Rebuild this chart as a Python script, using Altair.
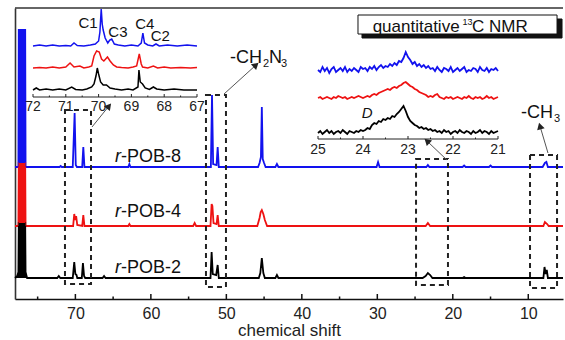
import altair as alt
import numpy as np
import pandas as pd

FONT = "Liberation Sans, Arial, Helvetica, sans-serif"
W, H = 548, 291

SERIES = ["r-POB-8", "r-POB-4", "r-POB-2"]
COLORS = ["#1212ee", "#ee1212", "#000000"]

# ---- main spectra: chemical shift (ppm) and intensity above each trace's baseline ----
MAIN_OFFSETS = [132, 73, 21]

pob8_ppm = [78.0, 77.55, 77.5, 76.65, 76.6, 72.1, 71.95, 71.8, 70.35, 70.1, 69.95, 69.8,
            69.1, 68.95, 68.8, 63.0, 62.85, 62.7, 52.05, 51.9, 51.75, 51.3, 51.15, 51.0,
            45.8, 45.6, 45.42, 45.3, 45.18, 45.0, 44.8, 43.5, 43.3, 43.1, 30.1, 29.9, 29.7,
            23.5, 23.3, 23.1, 18.7, 18.5, 18.3, 15.2, 15.0, 14.8, 8.1, 7.8, 7.6, 7.4, 5.4]
pob8_int = [0, 0, 137, 137, 0, 0, 1, 0, 0, 54, 2, 0,
            0, 20, 0, 0, 3, 0, 0, 72, 3, 2, 20, 0,
            0, 4, 10, 60, 8, 4, 0, 0, 3, 0, 0, 5, 0,
            0, 2, 0, 0, 1.5, 0, 0, 1.5, 0, 0, 4, 5, 0, 0]

pob4_ppm = [78.0, 77.55, 77.5, 76.65, 76.6, 70.3, 70.15, 70.02, 69.9, 69.75, 69.1, 68.95, 68.8,
            63.0, 62.85, 62.7, 54.4, 54.2, 54.0, 52.1, 51.95, 51.85, 51.7, 51.3, 51.15, 51.0,
            45.9, 45.6, 45.45, 45.3, 45.1, 44.9, 44.6, 23.6, 23.3, 23.0, 8.0, 7.8, 7.5, 7.3, 5.4]
pob4_int = [0, 0, 63, 63, 0, 0, 12, 6, 10, 1, 0, 11, 0,
            0, 2, 0, 0, 3, 0, 0, 22, 20, 3, 2, 11, 0,
            0, 8, 14, 16, 12, 6, 0, 0, 3, 0, 0, 4, 2, 0, 0]

pob2_ppm = [78.0, 77.7, 77.55, 77.5, 76.65, 76.6, 76.4, 72.4, 72.2, 72.0, 70.35, 70.15, 70.0,
            69.85, 69.75, 69.15, 69.0, 68.85, 68.7, 66.4, 66.2, 66.0, 52.1, 51.95, 51.8, 51.35,
            51.15, 51.0, 45.7, 45.5, 45.3, 45.1, 44.9, 43.5, 43.3, 43.1, 24.0, 23.6, 23.3, 23.0,
            22.7, 18.7, 18.5, 18.3, 8.0, 7.85, 7.7, 7.55, 7.4, 5.4]
pob2_int = [0, 2, 6, 55, 55, 6, 0, 0, 2, 0, 0, 16, 4,
            3, 0, 0, 15, 2, 0, 0, 2, 0, 0, 26, 4, 3,
            13, 0, 0, 5, 20, 5, 0, 0, 3, 0, 0, 2, 5, 3,
            0, 0, 1, 0, 0, 11, 4, 8, 0, 0]

# ---- inset 1: 72-67 ppm region ----
INSET1_OFFSETS = [253, 231, 209]
i1_pob8_ppm = [72.0, 71.8, 71.6, 71.4, 71.2, 71.0, 70.85, 70.75, 70.65, 70.45, 70.25, 70.1, 70.0,
               69.96, 69.92, 69.89, 69.86, 69.8, 69.72, 69.66, 69.6, 69.52, 69.4, 69.2, 69.0, 68.8,
               68.7, 68.65, 68.6, 68.5, 68.35, 68.25, 68.15, 67.9, 67.6, 67.3, 67.0]
i1_pob8_int = [0, 1, 0, 1, 0, 0.5, 0, 3, 0.5, 0, 1, 2, 5,
               14, 37, 22, 16, 8, 3, 6, 7, 2, 1, 0, 1, 0,
               3, 13, 3, 1, 0, 2, 0, 1, 0, 1, 0]
i1_pob4_ppm = [72.0, 71.8, 71.6, 71.4, 71.2, 71.0, 70.87, 70.75, 70.57, 70.45, 70.3, 70.21, 70.14,
               70.06, 69.98, 69.91, 69.84, 69.73, 69.65, 69.55, 69.45, 69.3, 69.1, 68.95, 68.84,
               68.76, 68.7, 68.66, 68.5, 68.33, 68.2, 68.0, 67.8, 67.5, 67.2, 67.0]
i1_pob4_int = [0, 0.5, 0, 1, 0, 1, 5, 1, 2, 0, 1, 2, 12,
               17, 16, 9, 7, 11, 7, 3, 1, 0.5, 0, 1, 2,
               14, 4, 1, 0, 2, 0, 1, 0, 0.5, 0, 0.5]
i1_pob2_ppm = [72.0, 71.9, 71.8, 71.6, 71.4, 71.2, 71.0, 70.82, 70.7, 70.5, 70.36, 70.21, 70.14,
               70.08, 70.04, 70.0, 69.94, 69.86, 69.76, 69.65, 69.5, 69.3, 69.1, 68.95, 68.8,
               68.77, 68.73, 68.66, 68.58, 68.45, 68.33, 68.23, 68.0, 67.7, 67.4, 67.0]
i1_pob2_int = [0, 2, 0, 1, 0, 1, 0, 3, 0.5, 0, 1, 3, 6,
               14, 22, 16, 8, 5, 5, 2, 1, 0, 1, 0, 3,
               20, 8, 6, 2, 0.5, 3, 1, 0, 1, 0, 0]

# ---- inset 2: 25-21 ppm region, sampled every 0.05 ppm ----
INSET2_OFFSETS = [229, 201, 166]
i2_ppm = np.round(np.linspace(25.0, 21.0, 81), 2)
i2_pob8_int = [0, -2, 3, -1, 2, -3, 1, 3, -2, 0, 2, -1, 3, -2, 1, -1, 2, 0, -2, 3, 1,
               2, -1, 3, 1, 4, 0, 3, 5, 2, 4,
               3, 6, 4, 7, 5, 9, 8, 12, 18, 13,
               10, 6, 8, 4, 6, 3, 5, 2, 4, 1,
               2, -1, 3, 0, -2, 2, 1, -1, 3, -2, 0, 2, -1, 1, 3, -2, 0, -1, 2, 1,
               -2, 3, 0, -1, 2, -2, 1, 0, 2, -1]
i2_pob4_int = [0, 1, -1, 0, 1, 0, -1, 1, 0, 2, 1, 0, 1, -1, 0, 1, 0, 1, 2, 1, 0,
               1, 2, 1, 3, 4, 3, 5, 6, 7, 8,
               9, 8, 10, 11, 10, 12, 13, 15, 16, 14,
               12, 11, 9, 8, 6, 5, 4, 3, 1, 2,
               1, 3, 4, 1, 0, -1, 1, 0, 1, -1, 0, 1, 0, -1, 1, 0, 2, 0, -1, 1,
               0, 1, -1, 0, 2, 0, 1, -1, 0, 1]
i2_pob2_int = [0, 2, -1, 1, 3, 0, 2, -1, 1, 2, 0, 3, 1, -1, 2, 1, 0, 2, 1, 3, 2,
               3, 5, 4, 8, 10, 9, 12, 11, 14, 13,
               15, 14, 17, 16, 19, 21, 24, 27, 22, 16,
               12, 10, 8, 7, 5, 6, 4, 5, 3, 4,
               2, 3, 1, 2, 0, 3, 1, 2, -1, 1, 2, 0, 3, 1, 0, 2, 1, -1, 2, 0,
               1, 3, 0, 2, 1, -1, 2, 0, 1, 2]

# ---- axis ticks ----
main_major = [10, 20, 30, 40, 50, 60, 70]
main_minor = [15, 25, 35, 45, 55, 65, 75]
i1_major = [72, 71, 70, 69, 68, 67]
i1_minor = [71.5, 70.5, 69.5, 68.5, 67.5]
i2_major = [25, 24, 23, 22, 21]
i2_minor = [24.5, 23.5, 22.5, 21.5]


def stack(ppms, ints, offsets):
    frames = []
    for name, p, v, off in zip(SERIES, ppms, ints, offsets):
        frames.append(pd.DataFrame({"ppm": p, "y": np.asarray(v, float) + off,
                                    "base": off, "series": name}))
    return pd.concat(frames, ignore_index=True)


main_df = stack([pob8_ppm, pob4_ppm, pob2_ppm], [pob8_int, pob4_int, pob2_int], MAIN_OFFSETS)
i1_df = stack([i1_pob8_ppm, i1_pob4_ppm, i1_pob2_ppm],
              [i1_pob8_int, i1_pob4_int, i1_pob2_int], INSET1_OFFSETS)
i2_df = stack([i2_ppm] * 3, [i2_pob8_int, i2_pob4_int, i2_pob2_int], INSET2_OFFSETS)

# scales: main spectrum axis, the two zoomed insets, and a shared vertical scale
XM = alt.Scale(domain=[5.4, 78], reverse=True, nice=False, zero=False)
X1 = alt.Scale(domain=[67, 72], range=[182, 18], nice=False, zero=False)
X2 = alt.Scale(domain=[21, 25], range=[483, 303], nice=False, zero=False)
YS = alt.Scale(domain=[0, 291], nice=False, zero=False)
CS = alt.Scale(domain=SERIES, range=COLORS)


def xq(field, sc):
    return alt.X(field, type="quantitative", scale=sc, axis=None)


def yq(field):
    return alt.Y(field, type="quantitative", scale=YS, axis=None)


# main spectra with axes
spectra = alt.Chart(main_df).mark_line(strokeWidth=1.8).encode(
    x=alt.X("ppm:Q", scale=XM, axis=alt.Axis(
        values=main_major, format="d", ticks=False, labelFontSize=16, labelFont=FONT,
        labelColor="#222", labelPadding=6, domainColor="#111", domainWidth=1.6, grid=False,
        title="chemical shift", titleFont=FONT, titleFontSize=17, titleFontWeight="normal",
        titleColor="#222", titleBaseline="alphabetic", titleY=36)),
    y=alt.Y("y:Q", scale=YS, axis=alt.Axis(labels=False, ticks=False, grid=False, title=None,
                                           domainColor="#333", domainWidth=1.6)),
    color=alt.Color("series:N", scale=CS, legend=None),
)
solvent = alt.Chart(main_df).transform_filter("datum.ppm >= 76.3").mark_area().encode(
    x=xq("ppm", XM), y=alt.Y("y:Q", scale=YS, axis=None, stack=None), y2="base:Q",
    color=alt.Color("series:N", scale=CS, legend=None),
)

major_df = pd.DataFrame({"ppm": main_major, "lo": 0, "hi": 5})
minor_df = pd.DataFrame({"ppm": main_minor, "lo": 0, "hi": 2.5})
main_ticks = alt.Chart(pd.concat([major_df, minor_df])).mark_rule(color="#111", strokeWidth=1.5).encode(
    x=xq("ppm", XM), y=yq("lo"), y2="hi:Q")

top_line = alt.Chart().mark_rule(color="#333", strokeWidth=1.6).encode(
    x=alt.value(0), x2=alt.value(W), y=alt.value(0))

# dashed selection boxes on the main spectrum
boxes = pd.DataFrame({"x0": [71.38, 52.70, 24.87, 9.77], "x1": [67.93, 50.05, 20.64, 6.19],
                      "y0": [15, 12, 14, 11], "y1": [189, 204, 140, 144]})
box_layer = alt.Chart(boxes).mark_rect(fillOpacity=0, stroke="#222", strokeWidth=2,
                                       strokeDash=[5, 4]).encode(
    x=xq("x0", XM), x2="x1:Q", y=yq("y0"), y2="y1:Q")

# arrows from boxes to the insets / group labels
arrows = pd.DataFrame({"x0": [67.80, 50.31, 20.77, 7.39], "x1": [65.55, 46.07, 23.42, 8.45],
                       "y0": [172, 205, 139, 146], "y1": [193, 234, 158, 173],
                       "ang": [39, 48, 313, 344]})
arrow_lines = alt.Chart(arrows).mark_rule(color="#555", strokeWidth=1).encode(
    x=xq("x0", XM), x2="x1:Q", y=yq("y0"), y2="y1:Q")
arrow_heads = alt.Chart(arrows).mark_point(shape="triangle-up", filled=True, size=60,
                                           color="#222", opacity=1).encode(
    x=xq("x1", XM), y=yq("y1"), angle=alt.Angle("ang:Q", scale=None))

# series labels
lab = pd.DataFrame({"ppm": 63.96, "y": [137, 82, 26], "txt": ["-POB-8", "-POB-4", "-POB-2"]})
lab_r = alt.Chart(lab).mark_text(text="r", fontStyle="italic", align="right", baseline="alphabetic",
                                 font=FONT, fontSize=18, color="#111").encode(x=xq("ppm", XM), y=yq("y"))
lab_t = alt.Chart(lab).mark_text(align="left", baseline="alphabetic", font=FONT, fontSize=18,
                                 color="#111").encode(x=xq("ppm", XM), y=yq("y"), text="txt:N")

# group labels with subscripts and the title box
notes = pd.DataFrame({
    "ppm": [45.28, 45.15, 44.35, 42.76, 6.72, 6.59, 19.10, 18.72, 17.45],
    "y":   [236, 232, 236, 232, 181, 177, 267, 274, 267],
    "txt": ["-CH", "2", "N", "3", "-CH", "3", "quantitative", "13", "C NMR"],
    "size": [18, 11, 18, 11, 18, 11, 17, 9, 17],
    "al":  ["right", "left", "left", "left", "right", "left", "right", "left", "left"],
})
note_layers = []
for al in ["right", "left"]:
    note_layers.append(
        alt.Chart(notes).transform_filter(alt.datum.al == al).mark_text(
            align=al, baseline="alphabetic", font=FONT, color="#111").encode(
            x=xq("ppm", XM), y=yq("y"), text="txt:N",
            size=alt.Size("size:Q", scale=None, legend=None)))

title_box = pd.DataFrame({"x0": [32.03, 32.56], "x1": [5.53, 6.19], "y0": [261, 265], "y1": [280, 284],
                          "fill": ["#111111", "#ffffff"]})
box_rects = alt.Chart(title_box).mark_rect(stroke="#111", strokeWidth=1).encode(
    x=xq("x0", XM), x2="x1:Q", y=yq("y0"), y2="y1:Q",
    fill=alt.Fill("fill:N", scale=None), order=alt.Order("y0:Q"))


def inset_layers(df, xs, major, minor, axis_y, label_y, width):
    lines = alt.Chart(df).mark_line(strokeWidth=width).encode(
        x=xq("ppm", xs), y=yq("y"), color=alt.Color("series:N", scale=CS, legend=None))
    ends = pd.DataFrame({"a": [major[0]], "b": [major[-1]], "y": [axis_y]})
    axis_line = alt.Chart(ends).mark_rule(color="#222", strokeWidth=1).encode(
        x=xq("a", xs), x2="b:Q", y=yq("y"))
    tk = pd.concat([pd.DataFrame({"ppm": major, "lo": axis_y, "hi": axis_y + 3}),
                    pd.DataFrame({"ppm": minor, "lo": axis_y, "hi": axis_y + 1.5})])
    ticks = alt.Chart(tk).mark_rule(color="#222", strokeWidth=1).encode(
        x=xq("ppm", xs), y=yq("lo"), y2="hi:Q")
    tl = pd.DataFrame({"ppm": major, "y": label_y, "txt": [str(v) for v in major]})
    labels = alt.Chart(tl).mark_text(font=FONT, fontSize=14, baseline="middle", color="#222").encode(
        x=xq("ppm", xs), y=yq("y"), text="txt:N")
    return [lines, axis_line, ticks, labels]


inset1 = inset_layers(i1_df, X1, i1_major, i1_minor, 202, 192, 1.5)
inset2 = inset_layers(i2_df, X2, i2_major, i2_minor, 160, 149, 1.8)

peaks1 = pd.DataFrame({"ppm": [70.32, 69.41, 68.59, 68.12], "y": [276, 267, 275, 263],
                       "txt": ["C1", "C3", "C4", "C2"]})
peak_labels = alt.Chart(peaks1).mark_text(font=FONT, fontSize=15, baseline="middle", color="#111").encode(
    x=xq("ppm", X1), y=yq("y"), text="txt:N")
d_label = alt.Chart(pd.DataFrame({"ppm": [23.91], "y": [186]})).mark_text(
    text="D", font=FONT, fontSize=15, fontStyle="italic", baseline="middle", color="#111").encode(
    x=xq("ppm", X2), y=yq("y"))

chart = alt.layer(
    spectra, solvent, main_ticks, top_line, box_layer, arrow_lines, arrow_heads,
    lab_r, lab_t, box_rects, *note_layers,
    *inset1, *inset2, peak_labels, d_label,
).resolve_scale(
    x="independent", y="independent", color="independent", size="independent",
    fill="independent", angle="independent",
).properties(
    width=W, height=H,
    padding={"left": 15, "top": 8, "right": 2, "bottom": 41},
    autosize=alt.AutoSizeParams(type="none"),
    background="white",
).configure_view(stroke=None)

chart.save("out.html", embed_options={"renderer": "svg", "actions": False})
